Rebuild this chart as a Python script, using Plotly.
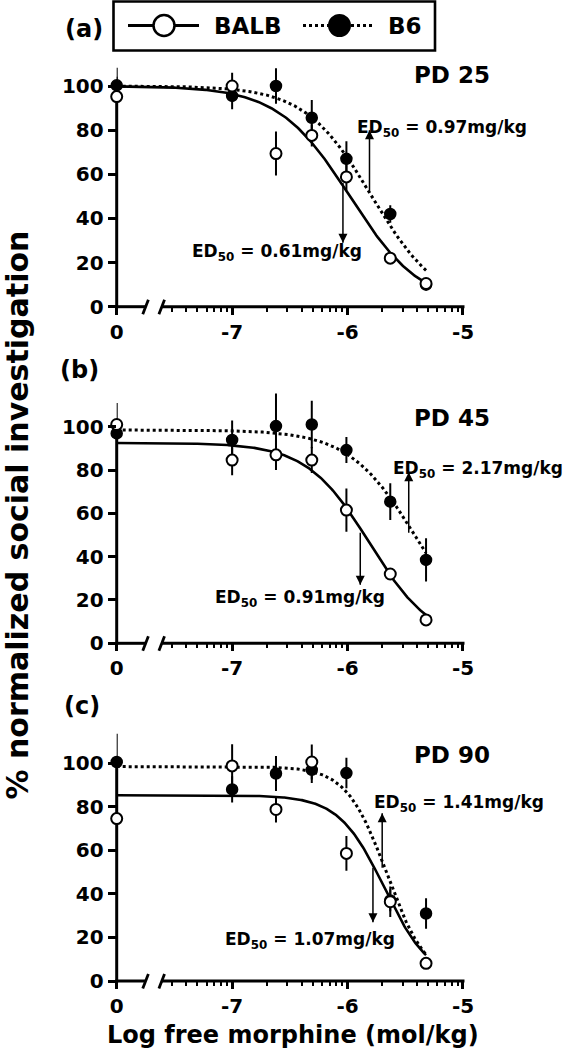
import numpy as np
import plotly.graph_objects as go

W, H = 566, 1050
FONT = "DejaVu Sans"

# ---------------- data ----------------
DOSE_LOG = [-8.0, -7.0, -6.62, -6.31, -6.01, -5.63, -5.32]   # -8 stands for the "0" dose
X_TICK_VALS = [-8, -7, -6, -5]
X_TICK_TEXT = ["0", "-7", "-6", "-5"]
Y_TICK_VALS = [0, 20, 40, 60, 80, 100]

PANEL_LABELS = ["(a)", "(b)", "(c)"]
PD_LABELS = ["PD 25", "PD 45", "PD 90"]

BALB_A = [95.2, 100.0, 69.4, 77.6, 58.8, 22.0, 10.5]
BALB_A_ERR = [9, 6, 10, 5, 6, 2, 1]
B6_A = [100.3, 95.5, 100.0, 85.6, 67.0, 42.0, 10.0]
B6_A_ERR = [8, 6, 8, 8, 8, 4, 2]

BALB_B = [101.0, 84.6, 87.0, 84.6, 61.5, 32.0, 10.8]
BALB_B_ERR = [2, 7, 7, 6, 10, 2, 1]
B6_B = [96.9, 93.9, 100.3, 101.0, 89.2, 65.4, 38.5]
B6_B_ERR = [14, 9, 15, 11, 6, 8.5, 10]

BALB_C = [74.6, 98.8, 78.8, 100.6, 58.6, 36.4, 8.1]
BALB_C_ERR = [1, 10, 6, 8, 8, 7, 1]
B6_C = [100.6, 88.0, 95.3, 97.0, 95.5, 37.0, 31.0]
B6_C_ERR = [13, 6, 8, 6, 7, 5, 7]

BALB_VALUES = [BALB_A, BALB_B, BALB_C]
BALB_ERRORS = [BALB_A_ERR, BALB_B_ERR, BALB_C_ERR]
B6_VALUES = [B6_A, B6_B, B6_C]
B6_ERRORS = [B6_A_ERR, B6_B_ERR, B6_C_ERR]

# sigmoidal fit parameters (top, log ED50, Hill slope), bottom = 0
BALB_TOP = [100.0, 92.5, 85.3]
BALB_LOGED50 = [-5.98, -5.81, -5.68]
BALB_HILL = [1.4, 1.6, 2.2]
B6_TOP = [100.0, 98.5, 98.5]
B6_LOGED50 = [-5.79, -5.41, -5.66]
B6_HILL = [1.5, 1.5, 2.5]

BALB_ED50_TEXT = ["0.61", "0.91", "1.07"]
B6_ED50_TEXT = ["0.97", "2.17", "1.41"]

BALB_ARROW_X = [-6.04, -5.89, -5.78]
BALB_ARROW_FROM = [56, 51, 52]
BALB_ARROW_TO = [29, 27, 27]
B6_ARROW_X = [-5.81, -5.47, -5.70]
B6_ARROW_FROM = [52, 51, 52]
B6_ARROW_TO = [80, 79, 77]

# ---------------- layout geometry ----------------
X0_PX = 116.7
X_PX_PER = 115.43
Y0_PX = [306.7, 643.3, 981.0]
Y_SCALE = [2.207, 2.166, 2.177]
Y_RANGE = [0, 120]
X_RANGE = [-8, -5]
BREAK_LO, BREAK_HI = -7.75, -7.61


def xpx(v):
    return X0_PX + (v - X_RANGE[0]) * X_PX_PER


def ypx(i, v):
    return Y0_PX[i] - v * Y_SCALE[i]


def xp(px):
    return px / W


def yp(py):
    return 1 - py / H


minor_vals = []
for d in (-8, -7, -6):
    for k in range(2, 10):
        v = d + np.log10(k)
        if v > BREAK_HI:
            minor_vals.append(float(v))


def hill(x, top, c, h):
    return top / (1 + 10 ** (h * (x - c)))


fig = go.Figure()
shapes = []
annotations = []

for i in range(3):
    n = "" if i == 0 else str(i + 1)
    xa, ya = "x" + n, "y" + n
    xcurve = np.linspace(X_RANGE[0], DOSE_LOG[-1], 300)

    fig.add_trace(go.Scatter(x=xcurve, y=hill(xcurve, B6_TOP[i], B6_LOGED50[i], B6_HILL[i]),
                             mode="lines", line=dict(color="black", width=3, dash="dot"),
                             xaxis=xa, yaxis=ya, showlegend=False, hoverinfo="skip"))
    fig.add_trace(go.Scatter(x=xcurve, y=hill(xcurve, BALB_TOP[i], BALB_LOGED50[i], BALB_HILL[i]),
                             mode="lines", line=dict(color="black", width=2.6),
                             xaxis=xa, yaxis=ya, showlegend=False, hoverinfo="skip"))

    # ED50 arrows (shaft + head)
    for ax_x, y_from, y_to, sym in ((BALB_ARROW_X[i], BALB_ARROW_FROM[i], BALB_ARROW_TO[i], "arrow-down"),
                                    (B6_ARROW_X[i], B6_ARROW_FROM[i], B6_ARROW_TO[i], "arrow-up")):
        fig.add_trace(go.Scatter(x=[ax_x, ax_x], y=[y_from, y_to], mode="lines",
                                 line=dict(color="black", width=1.5),
                                 xaxis=xa, yaxis=ya, showlegend=False, hoverinfo="skip"))
        fig.add_trace(go.Scatter(x=[ax_x], y=[y_to], mode="markers",
                                 marker=dict(symbol=sym, size=9, color="black",
                                             line=dict(width=0)),
                                 cliponaxis=False, xaxis=xa, yaxis=ya, showlegend=False,
                                 hoverinfo="skip"))

    fig.add_trace(go.Scatter(x=DOSE_LOG, y=B6_VALUES[i], mode="markers",
                             error_y=dict(type="data", array=B6_ERRORS[i], color="black",
                                          thickness=2, width=0),
                             marker=dict(symbol="circle", size=11, color="black",
                                         line=dict(color="black", width=1.5)),
                             cliponaxis=False, xaxis=xa, yaxis=ya, showlegend=False))
    fig.add_trace(go.Scatter(x=DOSE_LOG, y=BALB_VALUES[i], mode="markers",
                             error_y=dict(type="data", array=BALB_ERRORS[i], color="black",
                                          thickness=2, width=0),
                             marker=dict(symbol="circle", size=11, color="white",
                                         line=dict(color="black", width=2)),
                             cliponaxis=False, xaxis=xa, yaxis=ya, showlegend=False))

    dom_x = [xp(xpx(X_RANGE[0])), xp(xpx(X_RANGE[1]))]
    dom_y = [yp(ypx(i, Y_RANGE[0])), yp(ypx(i, Y_RANGE[1]))]
    fig.update_layout(**{
        ("xaxis" + n): dict(domain=dom_x, range=X_RANGE, anchor=ya, automargin=False,
                            showgrid=False, zeroline=False, showline=False,
                            tickmode="array", tickvals=X_TICK_VALS, ticktext=X_TICK_TEXT,
                            ticks="outside", ticklen=7, tickwidth=3, tickcolor="black",
                            tickfont=dict(family=FONT, size=20, color="black", weight="bold"),
                            minor=dict(tickmode="array", tickvals=minor_vals, ticks="outside",
                                       ticklen=4, tickwidth=2, tickcolor="black", showgrid=False)),
        ("yaxis" + n): dict(domain=dom_y, range=Y_RANGE, anchor=xa, automargin=False,
                            showgrid=False, zeroline=False, showline=False,
                            tickmode="array", tickvals=Y_TICK_VALS,
                            ticks="outside", ticklen=8, tickwidth=3, tickcolor="black",
                            tickfont=dict(family=FONT, size=20, color="black", weight="bold")),
    })

    # axis lines with break
    y0p = ypx(i, 0)
    shapes.append(dict(type="line", xref="paper", yref="paper", layer="below",
                       x0=xp(X0_PX), x1=xp(X0_PX), y0=yp(y0p + 1.5), y1=yp(ypx(i, 100)),
                       line=dict(color="black", width=3)))
    shapes.append(dict(type="line", xref="paper", yref="paper", layer="below",
                       x0=xp(X0_PX - 1.5), x1=xp(xpx(BREAK_LO)), y0=yp(y0p), y1=yp(y0p),
                       line=dict(color="black", width=3)))
    shapes.append(dict(type="line", xref="paper", yref="paper", layer="below",
                       x0=xp(xpx(BREAK_HI)), x1=xp(xpx(X_RANGE[1]) + 1.5), y0=yp(y0p), y1=yp(y0p),
                       line=dict(color="black", width=3)))
    for b in (BREAK_LO, BREAK_HI):
        cx = xpx(b)
        shapes.append(dict(type="line", xref="paper", yref="paper", layer="below",
                           x0=xp(cx - 2.8), x1=xp(cx + 2.8), y0=yp(y0p + 7.5), y1=yp(y0p - 7),
                           line=dict(color="black", width=2.8)))

# text positions (pixels: anchor x, vertical centre)
PD_POS = [(411.7, 75), (411.7, 418), (411.7, 755)]
B6_TXT_POS = [(355, 128), (393, 470), (371.7, 803.5)]
BALB_TXT_POS = [(190, 253), (213, 598), (223, 940)]
PANEL_POS = [(63, 29), (58, 370), (62, 706)]

for i in range(3):
    annotations.append(dict(xref="paper", yref="paper", x=xp(PD_POS[i][0]), y=yp(PD_POS[i][1]),
                            xanchor="left", yanchor="middle", showarrow=False, text=PD_LABELS[i],
                            font=dict(family=FONT, size=23, color="black", weight="bold")))
    b6x, b6anchor = (xp(565), "right") if i == 1 else (xp(B6_TXT_POS[i][0]), "left")
    annotations.append(dict(xref="paper", yref="paper", x=b6x, y=yp(B6_TXT_POS[i][1]),
                            xanchor=b6anchor, yanchor="middle", showarrow=False,
                            text="ED<sub>50</sub> = " + B6_ED50_TEXT[i] + "mg/kg",
                            font=dict(family=FONT, size=17, color="black", weight="bold")))
    annotations.append(dict(xref="paper", yref="paper", x=xp(BALB_TXT_POS[i][0]), y=yp(BALB_TXT_POS[i][1]),
                            xanchor="left", yanchor="middle", showarrow=False,
                            text="ED<sub>50</sub> = " + BALB_ED50_TEXT[i] + "mg/kg",
                            font=dict(family=FONT, size=17, color="black", weight="bold")))
    annotations.append(dict(xref="paper", yref="paper", x=xp(PANEL_POS[i][0]), y=yp(PANEL_POS[i][1]),
                            xanchor="left", yanchor="middle", showarrow=False, text=PANEL_LABELS[i],
                            font=dict(family=FONT, size=24, color="black", weight="bold")))

# axis titles
annotations.append(dict(xref="paper", yref="paper", x=xp(-3), y=yp(515), textangle=-90,
                        xanchor="left", yanchor="middle", showarrow=False,
                        text="% normalized social investigation",
                        font=dict(family=FONT, size=30, color="black", weight="bold")))
annotations.append(dict(xref="paper", yref="paper", x=xp(293), y=yp(1051),
                        xanchor="center", yanchor="bottom", showarrow=False,
                        text="Log free morphine (mol/kg)",
                        font=dict(family=FONT, size=24, color="black", weight="bold")))

# legend (drawn manually)
shapes.append(dict(type="rect", xref="paper", yref="paper", x0=xp(113.5), x1=xp(435), y0=yp(1.5), y1=yp(50.5),
                   line=dict(color="black", width=2.6), fillcolor="white"))
shapes.append(dict(type="line", xref="paper", yref="paper", x0=xp(128), x1=xp(199), y0=yp(25.5), y1=yp(25.5),
                   line=dict(color="black", width=3)))
shapes.append(dict(type="circle", xref="paper", yref="paper", x0=xp(153.5), x1=xp(174.5), y0=yp(36), y1=yp(15),
                   line=dict(color="black", width=2.5), fillcolor="white"))
shapes.append(dict(type="line", xref="paper", yref="paper", x0=xp(303), x1=xp(375), y0=yp(25.5), y1=yp(25.5),
                   line=dict(color="black", width=3, dash="dot")))
shapes.append(dict(type="circle", xref="paper", yref="paper", x0=xp(329), x1=xp(350), y0=yp(36), y1=yp(15),
                   line=dict(color="black", width=2), fillcolor="black"))
annotations.append(dict(xref="paper", yref="paper", x=xp(212), y=yp(26), xanchor="left", yanchor="middle",
                        showarrow=False, text="BALB",
                        font=dict(family=FONT, size=23, color="black", weight="bold")))
annotations.append(dict(xref="paper", yref="paper", x=xp(386), y=yp(26), xanchor="left", yanchor="middle",
                        showarrow=False, text="B6",
                        font=dict(family=FONT, size=23, color="black", weight="bold")))

fig.update_layout(width=W, height=H, margin=dict(l=0, r=0, t=0, b=0, autoexpand=False),
                  paper_bgcolor="white", plot_bgcolor="rgba(0,0,0,0)",
                  shapes=shapes, annotations=annotations, showlegend=False)

fig.write_html("out.html",
               config={"displayModeBar": False, "staticPlot": True},
               post_script="document.body.style.margin='0';document.body.style.overflow='hidden';")
